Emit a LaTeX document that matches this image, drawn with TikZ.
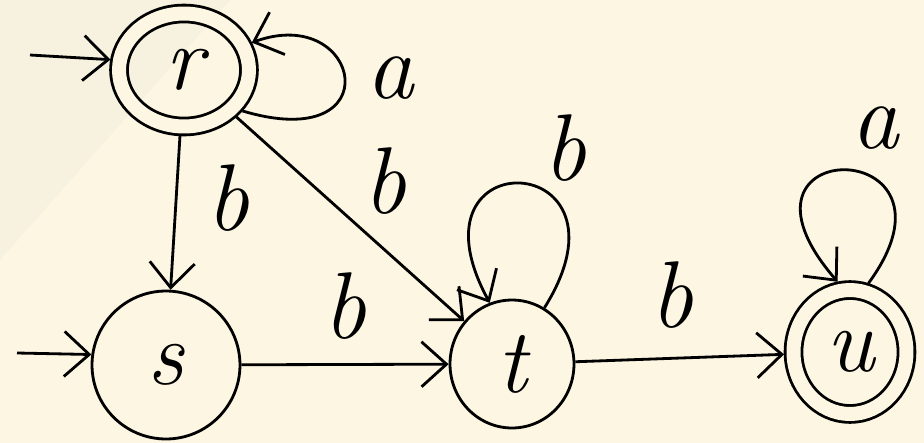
\documentclass[tikz,border=0pt]{standalone}
\usetikzlibrary{shapes.geometric,arrows.meta}
\definecolor{paper}{RGB}{252,246,226}
\definecolor{paperlight}{RGB}{247,242,223}
\tikzset{
  state/.style={draw,ellipse,line width=1.6pt,inner sep=0pt,font=\fontsize{52}{52}\selectfont\itshape},
  accepting/.style={double=paper,double distance=0.28cm,outer sep=0.19cm},
  trans/.style={line width=1.6pt,-{Straight Barb[length=5mm,width=9mm,line width=1.6pt]}},
  lbl/.style={font=\fontsize{54}{54}\selectfont\itshape}
}
\begin{document}
\begin{tikzpicture}[x=0.02cm,y=-0.02cm]
\fill[paper] (0,0) rectangle (924,443);
\fill[paperlight] (0,0) -- (230,0) -- (0,260) -- cycle;
\useasboundingbox (0,0) rectangle (924,443);
% states
\node[state,accepting,minimum width=2.6cm,minimum height=2.26cm] (r) at (184,70) {r};
\node[state,minimum size=2.96cm] (s) at (166,365) {s};
\node[state,minimum width=2.48cm,minimum height=2.56cm] (t) at (512,364) {t};
\node[state,accepting,minimum width=2.26cm,minimum height=2.48cm] (u) at (850,352) {u};
% start arrows
\coordinate (rin) at (30,55);
\coordinate (sin) at (17,353);
\draw[trans] (rin) -- (r.172);
\draw[trans] (sin) -- (s.172);
% transitions
\draw[trans] (r) -- (s);
\draw[trans] (r) -- (t);
\draw[trans] (s) -- (t);
\draw[trans] (t) -- (u);
\draw[trans] (r.-35) .. controls +(150,45) and +(110,-40) .. (r.22);
\draw[trans] (t.60) .. controls +(100,-160) and +(-90,-165) .. (t.110);
\draw[trans] (u.75) .. controls +(110,-150) and +(-130,-150) .. (u.100);
% labels
\node[lbl] (ra) at (390,78) {a};
\node[lbl] (rsb) at (228,198) {b};
\node[lbl] (rtb) at (385,181) {b};
\node[lbl] (stb) at (345,306) {b};
\node[lbl] (ttb) at (565,148) {b};
\node[lbl] (tub) at (672,295) {b};
\node[lbl] (ua) at (875,128) {a};
\end{tikzpicture}
\end{document}
